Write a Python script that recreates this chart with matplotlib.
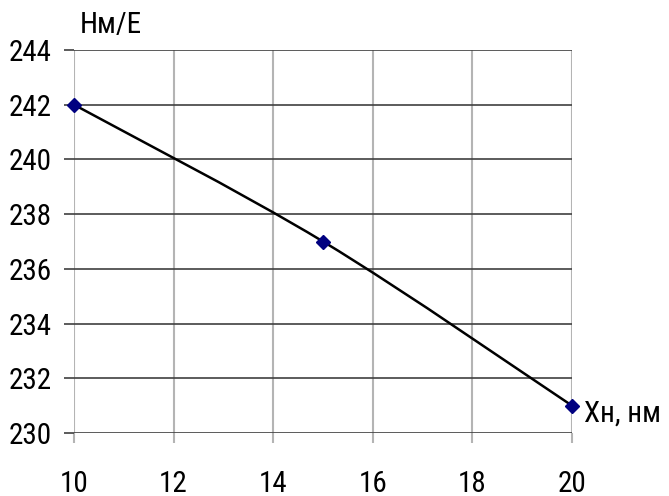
import numpy as np
import matplotlib
matplotlib.use("Agg")
import matplotlib.pyplot as plt
from matplotlib.path import Path
from matplotlib.patches import PathPatch
from matplotlib import font_manager

x_vals = [10, 15, 20]
y_vals = [242, 237, 231]
x_ticks = [10, 12, 14, 16, 18, 20]
y_ticks = [230, 232, 234, 236, 238, 240, 242, 244]
y_label = "Нм/Е"
x_label = "Хн, нм"

names = {f.name for f in font_manager.fontManager.ttflist}
fam = [n for n in ["Roboto Condensed", "PT Sans Narrow", "Liberation Sans"] if n in names][:1]
plt.rcParams['font.family'] = fam + ["DejaVu Sans"]

fig = plt.figure(figsize=(6.69, 4.96), dpi=100)
ax = fig.add_axes([74/669, 63/496, (572-74)/669, (433-50)/496])
ax.set_xlim(10, 20)
ax.set_ylim(230, 244)
ax.set_xticks(x_ticks)
ax.set_yticks(y_ticks)
ax.set_xticklabels([str(t) for t in x_ticks])
ax.set_yticklabels([str(t) for t in y_ticks])
fs = 21
ax.tick_params(axis='x', length=7, width=1.5, color='#b4b4b4', pad=20, labelsize=fs)
ax.tick_params(axis='y', length=7, width=1.2, color='#404040', pad=9, labelsize=fs)
for s in ax.spines.values():
    s.set_visible(False)
for t in x_ticks:
    ax.axvline(t, color='#b4b4b4', lw=1.5, zorder=1)
for t in y_ticks:
    ax.axhline(t, color='#404040', lw=1.2, zorder=1)

# smoothed (Catmull-Rom style) curve through data points
pts = np.column_stack([x_vals, y_vals]).astype(float)
verts = [tuple(pts[0])]
codes = [Path.MOVETO]
n = len(pts)
for i in range(n - 1):
    p0 = pts[max(i - 1, 0)]
    p1 = pts[i]
    p2 = pts[i + 1]
    p3 = pts[min(i + 2, n - 1)]
    c1 = p1 + (p2 - p0) / 6
    c2 = p2 - (p3 - p1) / 6
    verts += [tuple(c1), tuple(c2), tuple(p2)]
    codes += [Path.CURVE4] * 3
ax.add_patch(PathPatch(Path(verts, codes), fill=False, edgecolor='black', lw=1.8, zorder=3, clip_on=False))
ax.plot(x_vals, y_vals, linestyle='none', marker='D', markersize=7.5, color='#000080', zorder=4, clip_on=False)

fig.text(80/669, 1 - 25/496, y_label, fontsize=fs, ha='left', va='center')
fig.text(584/669, 1 - 414/496, x_label, fontsize=fs, ha='left', va='center')

fig.savefig("out.png", dpi=100, facecolor='white')
